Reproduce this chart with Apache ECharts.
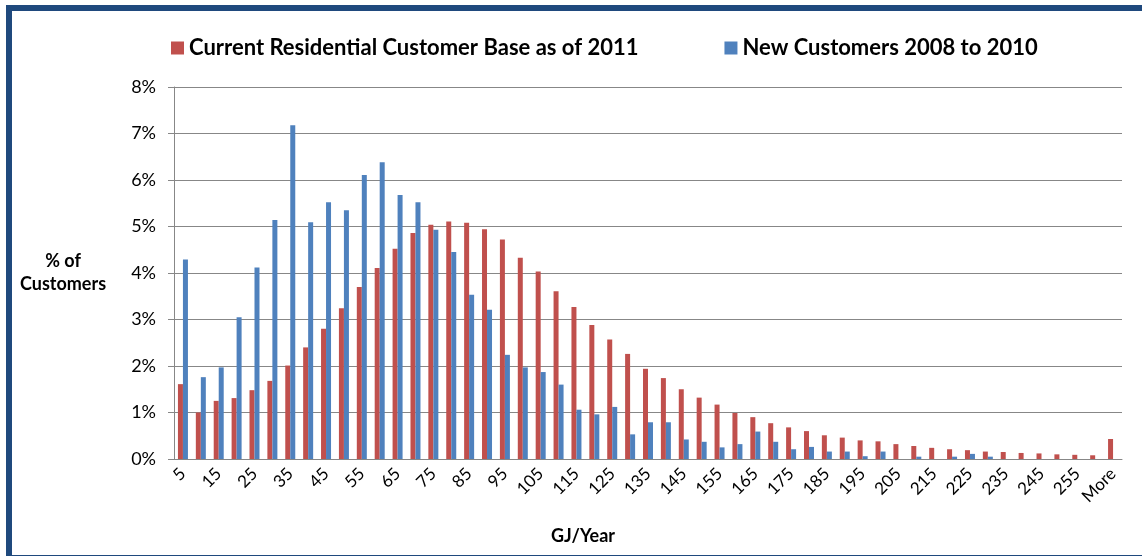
<!DOCTYPE html>
<html>
<head>
<meta charset="utf-8">
<style>
  html, body { margin: 0; padding: 0; background: #fff; }
  #chart { width: 1142px; height: 556px; }
</style>
<script src="https://cdn.jsdelivr.net/npm/echarts@6/dist/echarts.min.js"></script>
</head>
<body>
<div id="chart"></div>
<script>
const categories = ['5', '10', '15', '20', '25', '30', '35', '40', '45', '50',
  '55', '60', '65', '70', '75', '80', '85', '90', '95', '100',
  '105', '110', '115', '120', '125', '130', '135', '140', '145', '150',
  '155', '160', '165', '170', '175', '180', '185', '190', '195', '200',
  '205', '210', '215', '220', '225', '230', '235', '240', '245', '250',
  '255', '260', 'More']

// % of customers
const currentBase = [1.61, 1.00, 1.25, 1.31, 1.48, 1.68, 2.01, 2.40, 2.80, 3.24,
  3.70, 4.11, 4.52, 4.86, 5.04, 5.11, 5.08, 4.94, 4.72, 4.33,
  4.03, 3.61, 3.27, 2.88, 2.57, 2.26, 1.94, 1.74, 1.50, 1.32,
  1.17, 0.99, 0.90, 0.77, 0.68, 0.60, 0.51, 0.46, 0.40, 0.38,
  0.32, 0.28, 0.24, 0.21, 0.19, 0.16, 0.15, 0.13, 0.12, 0.10,
  0.09, 0.08, 0.43]

const newCustomers = [4.29, 1.76, 1.97, 3.05, 4.12, 5.14, 7.18, 5.09, 5.52, 5.35,
  6.11, 6.38, 5.68, 5.52, 4.93, 4.45, 3.53, 3.21, 2.24, 1.97,
  1.87, 1.60, 1.06, 0.96, 1.12, 0.53, 0.79, 0.79, 0.42, 0.37,
  0.25, 0.32, 0.59, 0.37, 0.21, 0.26, 0.16, 0.16, 0.06, 0.16,
  0, 0.05, 0, 0.05, 0.11, 0.05, 0, 0, 0, 0,
  0, 0, 0]

const FONT = 'Lato'
const axisGray = '#878787'

const chart = echarts.init(document.getElementById('chart'))

chart.setOption({
  backgroundColor: '#fff',
  animation: false,
  textStyle: { fontFamily: FONT },
  legend: {
    left: 166,
    top: 32,
    icon: 'rect',
    itemWidth: 13,
    itemHeight: 13,
    itemGap: 86,
    textStyle: { fontFamily: FONT, fontSize: 22, fontWeight: 'bold', color: '#000' },
  },
  grid: { left: 174, right: 20, top: 87, bottom: 97 },
  xAxis: {
    type: 'category',
    data: categories,
    name: 'GJ/Year',
    nameLocation: 'middle',
    nameGap: 68,
    nameTextStyle: {
      fontFamily: FONT, fontSize: 18, fontWeight: 'bold', color: '#000',
      padding: [0, 130, 0, 0],
    },
    axisLine: { lineStyle: { color: axisGray, width: 1 } },
    axisTick: { interval: 1, length: 6, lineStyle: { color: axisGray } },
    axisLabel: { interval: 1, rotate: 45, margin: 12, fontSize: 17, color: '#000', fontFamily: FONT },
  },
  yAxis: {
    type: 'value',
    min: 0,
    max: 8,
    interval: 1,
    name: '% of\nCustomers',
    nameLocation: 'middle',
    nameRotate: 0,
    nameGap: 111,
    nameTextStyle: {
      fontFamily: FONT, fontSize: 18, fontWeight: 'bold', color: '#000',
      align: 'center', lineHeight: 23,
    },
    axisLine: { show: true, lineStyle: { color: axisGray, width: 1 } },
    axisTick: { show: true, length: 6, lineStyle: { color: axisGray } },
    splitLine: { lineStyle: { color: axisGray, width: 1 } },
    axisLabel: { formatter: '{value}%', margin: 18, fontSize: 18, color: '#000', fontFamily: FONT },
  },
  series: [
    {
      name: 'Current Residential Customer Base as of 2011',
      type: 'bar',
      data: currentBase,
      barWidth: 5,
      barGap: '0%',
      itemStyle: { color: '#C0504D' },
    },
    {
      name: 'New Customers 2008 to 2010',
      type: 'bar',
      data: newCustomers,
      barWidth: 5,
      barGap: '0%',
      itemStyle: { color: '#4F81BD' },
    },
  ],
  graphic: [
    {
      type: 'rect',
      silent: true,
      z: 100,
      shape: { x: 9, y: 8, width: 1200, height: 550 },
      style: { fill: null, stroke: '#1F497D', lineWidth: 6 },
    },
  ],
})
</script>
</body>
</html>
